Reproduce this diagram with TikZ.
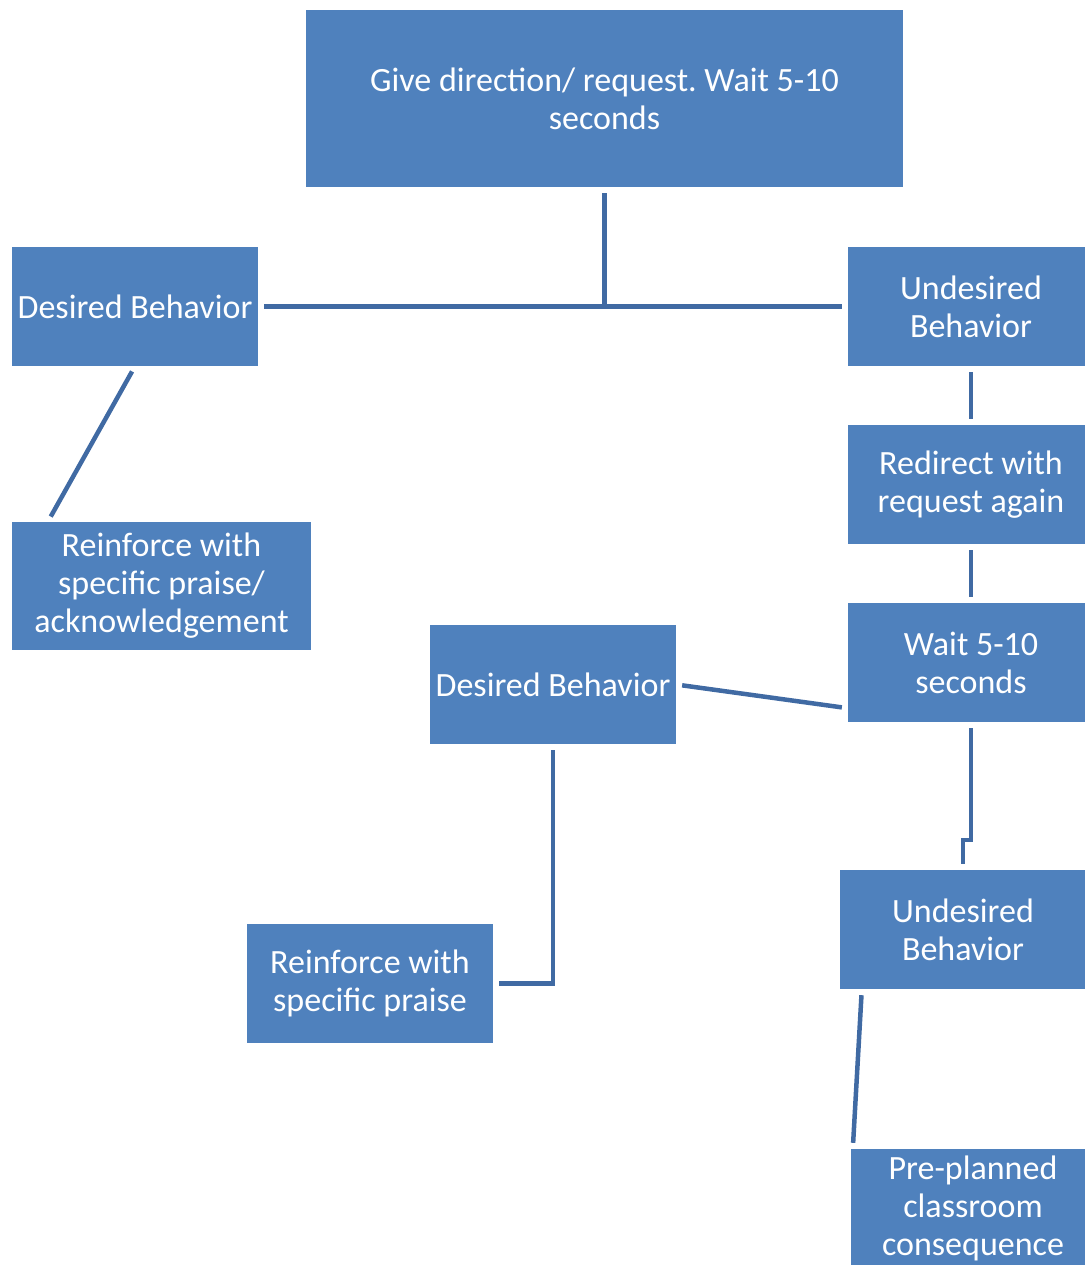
\documentclass[tikz,border=0pt]{standalone}
\usepackage{fontspec}
\setmainfont{Carlito}
\frenchspacing
\definecolor{boxblue}{RGB}{79,129,189}
\definecolor{lineblue}{RGB}{64,106,163}
\begin{document}
\begin{tikzpicture}[x=1pt,y=-1pt,
  box/.style={fill=boxblue,text=white,align=center,inner sep=0pt,
    minimum width=246pt,minimum height=119pt,
    font=\fontsize{34}{38}\selectfont},
  conn/.style={draw=lineblue,line width=4.5pt,shorten <=6pt,shorten >=6pt}]
\useasboundingbox (0,0) rectangle (1084,1265);
\node[box,minimum width=597pt,minimum height=177pt] at (604.5,98.5) (give) {Give direction/ request. Wait 5-10\\seconds};
\node[box] at (135,306.5) (desone) {Desired Behavior};
\node[box] at (971,306.5) (undone) {Undesired\\Behavior};
\node[box,minimum width=299pt,minimum height=128pt] at (161.5,586) (reinone) {Reinforce with\\specific praise/\\acknowledgement};
\node[box] at (971,484.5) (redirect) {Redirect with\\request again};
\node[box] at (971,662.5) (wait) {Wait 5-10\\seconds};
\node[box] at (553,684.5) (destwo) {Desired Behavior};
\node[box] at (963,929.5) (undtwo) {Undesired\\Behavior};
\node[box] at (370,983.5) (reintwo) {Reinforce with\\specific praise};
\node[box,minimum width=244pt] at (973,1208.5) (conseq) {Pre-planned\\classroom\\consequence};
\draw[conn] (give.south) |- (desone.east);
\draw[conn] (give.south) |- (undone.west);
\draw[conn] (desone.south) -- ([xshift=36pt]reinone.north west);
\draw[conn] (undone.south) -- (redirect.north);
\draw[conn] (redirect.south) -- (wait.north);
\draw[conn] (destwo.east) -- ([yshift=14pt]wait.south west);
\draw[conn] (wait.south) -- ++(0,118) -| (undtwo.north);
\draw[conn] (destwo.south) |- (reintwo.east);
\draw[conn] ([xshift=22pt]undtwo.south west) -- ([xshift=2pt]conseq.north west);
\end{tikzpicture}
\end{document}
